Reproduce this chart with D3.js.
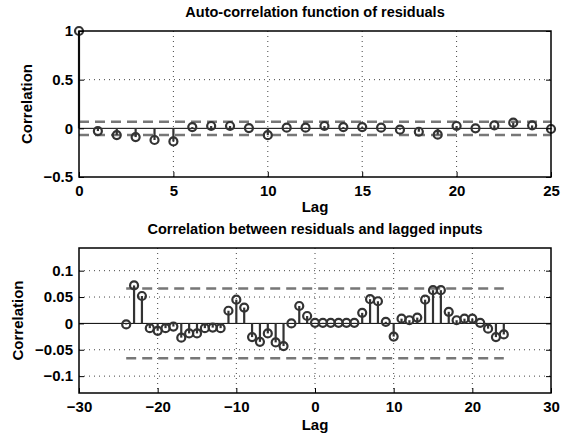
<!DOCTYPE html>
<html>
<head>
<meta charset="utf-8">
<script src="https://cdn.jsdelivr.net/npm/d3@7"></script>
<style>
  body { margin: 0; background: #fff; }
  svg { font-family: "Liberation Sans", Arial, sans-serif; font-weight: bold; }
</style>
</head>
<body>
<svg width="561" height="436"></svg>
<script>
// auto-correlation of residuals, lags 0..25
const acfLags = d3.range(0, 26);
const acfValues = [1, -0.028, -0.069, -0.09, -0.12, -0.135, 0.013, 0.024, 0.024, 0.003,
  -0.07, 0.007, 0.007, 0.024, 0.013, 0.013, 0.007, -0.014, -0.035, -0.065,
  0.024, 0.0, 0.03, 0.058, 0.03, -0.007];
const acfConf = 0.068;

// cross-correlation residuals vs inputs, lags -24..24
const xcLags = d3.range(-24, 25);
const xcValues = [-0.002, 0.072, 0.052, -0.009, -0.014, -0.009, -0.006, -0.027, -0.019, -0.019,
  -0.009, -0.008, -0.009, 0.024, 0.045, 0.030, -0.026, -0.035, -0.019, -0.036,
  -0.043, 0.0, 0.033, 0.014, 0.001, 0.001, 0.001, 0.001, 0.001, 0.001,
  0.020, 0.046, 0.042, 0.003, -0.025, 0.009, 0.006, 0.011, 0.045, 0.063,
  0.063, 0.022, 0.006, 0.009, 0.009, 0.001, -0.010, -0.026, -0.021];
const xcConf = 0.066;

const acfXTicks = [0, 5, 10, 15, 20, 25];
const acfYTicks = [-0.5, 0, 0.5, 1];
const xcXTicks = [-30, -20, -10, 0, 10, 20, 30];
const xcYTicks = [-0.1, -0.05, 0, 0.05, 0.1];

const svg = d3.select('svg');
const stemColor = '#333';
const dashColor = '#777';

const drawPanel = (opt) => {
  const x = d3.scaleLinear().domain(opt.xDomain).range([79, 551]);
  const y = d3.scaleLinear().domain(opt.yDomain).range([opt.bottom, opt.top]);
  const g = svg.append('g');

  // dotted grid
  g.selectAll('.gx')
    .data(opt.xTicks.filter(t => t > opt.xDomain[0] && t < opt.xDomain[1]))
    .enter().append('line')
    .attr('x1', d => x(d)).attr('x2', d => x(d))
    .attr('y1', opt.top).attr('y2', opt.bottom)
    .attr('stroke', '#444').attr('stroke-width', 1)
    .attr('stroke-dasharray', '1,4');
  g.selectAll('.gy')
    .data(opt.yTicks.filter(t => t > opt.yDomain[0] && t < opt.yDomain[1] && t !== 0))
    .enter().append('line')
    .attr('x1', 79).attr('x2', 551)
    .attr('y1', d => y(d)).attr('y2', d => y(d))
    .attr('stroke', '#444').attr('stroke-width', 1)
    .attr('stroke-dasharray', '1,4');

  // confidence bounds
  [opt.conf, -opt.conf].forEach(c => {
    g.append('line')
      .attr('x1', x(opt.confRange[0])).attr('x2', x(opt.confRange[1]))
      .attr('y1', y(c)).attr('y2', y(c))
      .attr('stroke', dashColor).attr('stroke-width', 2.5)
      .attr('stroke-dasharray', '10,6');
  });

  // baseline
  g.append('line')
    .attr('x1', 79).attr('x2', 551)
    .attr('y1', y(0)).attr('y2', y(0))
    .attr('stroke', '#000').attr('stroke-width', 1);

  const pts = opt.lags.map((l, i) => ({ lag: l, v: opt.values[i] }));
  g.selectAll('.stem')
    .data(pts)
    .enter().append('line')
    .attr('x1', d => x(d.lag)).attr('x2', d => x(d.lag))
    .attr('y1', y(0)).attr('y2', d => y(d.v))
    .attr('stroke', stemColor).attr('stroke-width', 2.2);
  g.selectAll('.mk')
    .data(pts)
    .enter().append('circle')
    .attr('cx', d => x(d.lag)).attr('cy', d => y(d.v))
    .attr('r', 4)
    .attr('fill', 'none')
    .attr('stroke', stemColor).attr('stroke-width', 2.2);

  // axes box
  g.append('rect')
    .attr('x', 79).attr('y', opt.top)
    .attr('width', 472).attr('height', opt.bottom - opt.top)
    .attr('fill', 'none').attr('stroke', '#000').attr('stroke-width', 1.5);

  const fmt = d => d3.format('')(d).replace('-', '\u2212');
  const xAxis = g.append('g')
    .attr('transform', `translate(0,${opt.bottom})`)
    .call(d3.axisBottom(x).tickValues(opt.xTicks).tickSize(-5).tickPadding(8).tickFormat(fmt));
  const yAxis = g.append('g')
    .attr('transform', 'translate(79,0)')
    .call(d3.axisLeft(y).tickValues(opt.yTicks).tickSize(-5).tickPadding(6).tickFormat(fmt));
  [xAxis, yAxis].forEach(a => {
    a.select('.domain').remove();
    a.selectAll('line').attr('stroke', '#000');
    a.selectAll('text').attr('font-size', 15).attr('font-family', null).attr('fill', '#000');
  });
  g.append('g')
    .attr('transform', `translate(551,0)`)
    .call(d3.axisRight(y).tickValues(opt.yTicks).tickSize(-5).tickFormat(''))
    .call(a => a.select('.domain').remove())
    .selectAll('line').attr('stroke', '#000');

  g.append('text')
    .attr('x', 315).attr('y', opt.titleY)
    .attr('text-anchor', 'middle').attr('font-size', 14.5)
    .text(opt.title);
  g.append('text')
    .attr('x', 315).attr('y', opt.lagY)
    .attr('text-anchor', 'middle').attr('font-size', 15)
    .text('Lag');
  g.append('text')
    .attr('transform', `translate(${opt.ylabX},${(opt.top + opt.bottom) / 2}) rotate(-90)`)
    .attr('text-anchor', 'middle').attr('font-size', 15)
    .text('Correlation');
};

drawPanel({
  lags: acfLags, values: acfValues, conf: acfConf, confRange: [0, 25],
  xDomain: [0, 25], yDomain: [-0.5, 1], xTicks: acfXTicks, yTicks: acfYTicks,
  top: 31, bottom: 177, title: 'Auto-correlation function of residuals',
  titleY: 17, lagY: 212, ylabX: 32
});

drawPanel({
  lags: xcLags, values: xcValues, conf: xcConf, confRange: [-24, 24],
  xDomain: [-30, 30], yDomain: [-0.132, 0.143], xTicks: xcXTicks, yTicks: xcYTicks,
  top: 248, bottom: 393, title: 'Correlation between residuals and lagged inputs',
  titleY: 234, lagY: 430, ylabX: 23
});
</script>
</body>
</html>
